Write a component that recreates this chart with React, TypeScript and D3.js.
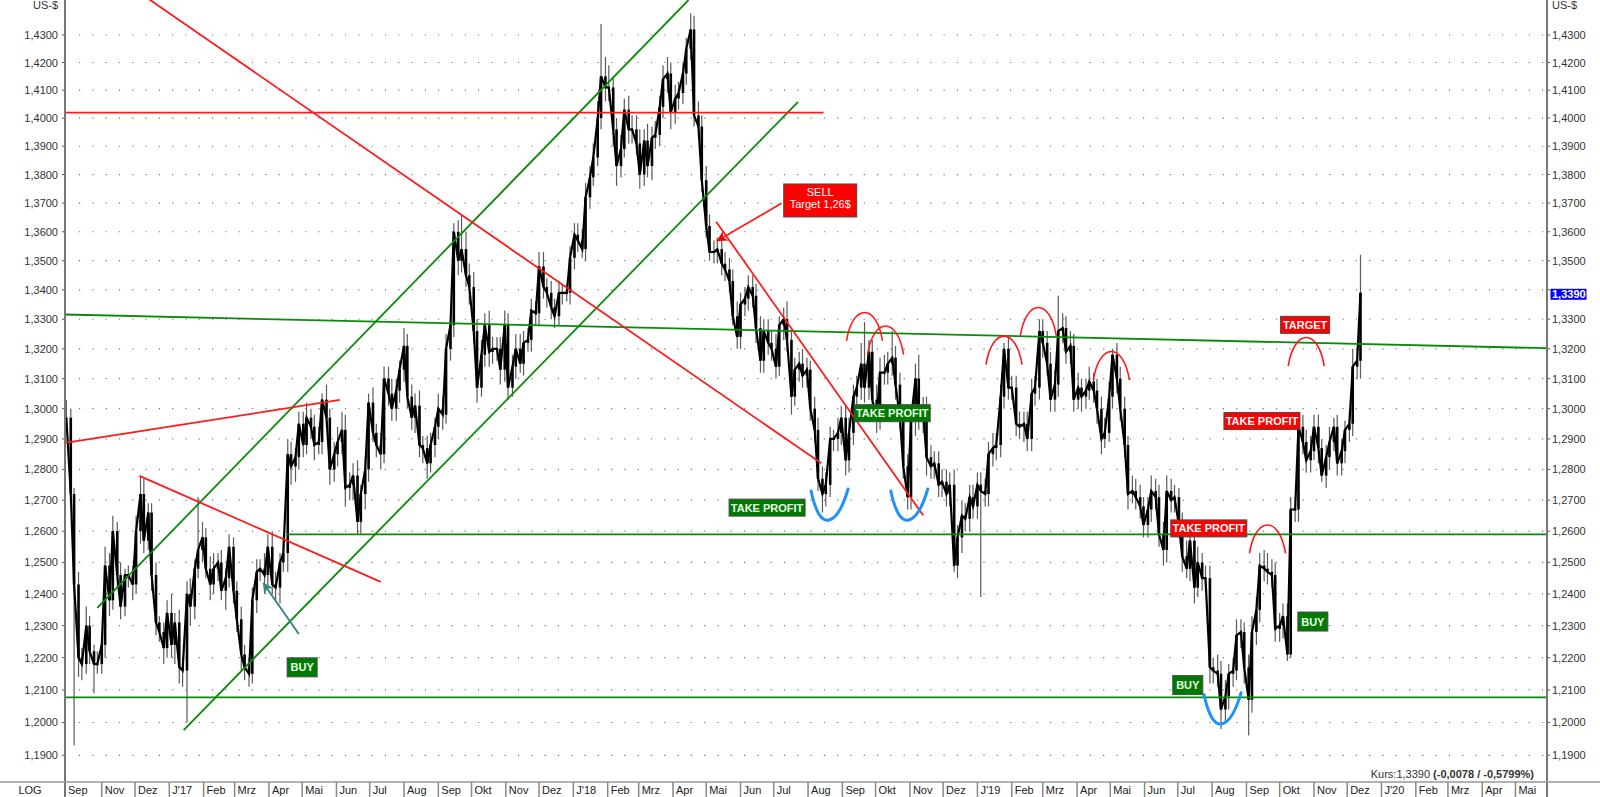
import React from "react";
import * as d3 from "d3";

// ---------- DATA (GBP/USD, Tue/Fri samples, values x1000) ----------
const seriesStart = "2016-09-30"; // first sample (Friday), then Tue/Fri alternating

const closes = [
  // 2016
  1297,
  1272, 1243, 1220, 1218, 1230, 1222, 1218, 1218,
  1224, 1249, 1238, 1260, 1246, 1236, 1246, 1246,
  1243, 1260, 1272, 1257, 1266, 1246, 1231, 1228, 1223, 1234,
  // 2017
  1224, 1231, 1217, 1216, 1240, 1236, 1248, 1254,
  1258, 1248, 1243, 1248, 1250, 1241, 1245, 1255,
  1241, 1232, 1221, 1217, 1215, 1238, 1247, 1248, 1246, 1255,
  1243, 1242, 1250, 1253, 1285, 1281, 1284, 1295,
  1288, 1297, 1294, 1288, 1289, 1303, 1297, 1280,
  1285, 1289, 1293, 1274, 1275, 1278, 1263, 1272, 1280, 1302,
  1292, 1288, 1285, 1310, 1305, 1300, 1306, 1313,
  1321, 1304, 1297, 1301, 1288, 1287, 1282, 1288,
  1294, 1300, 1298, 1320, 1328, 1360, 1350, 1354, 1345, 1341,
  1326, 1307, 1318, 1328, 1319, 1320, 1320, 1313,
  1328, 1307, 1314, 1320, 1315, 1322, 1323, 1333,
  1332, 1348, 1341, 1339, 1334, 1331, 1339, 1339, 1339, 1351,
  // 2018
  1359, 1357, 1354, 1372, 1379, 1386, 1400, 1415,
  1411, 1411, 1396, 1383, 1389, 1403, 1396, 1396,
  1391, 1380, 1392, 1383, 1393, 1394, 1404, 1414, 1416, 1402,
  1407, 1409, 1416, 1425, 1432, 1401, 1397, 1378,
  1362, 1353, 1353, 1354, 1349, 1347, 1343, 1331,
  1324, 1335, 1337, 1341, 1338, 1327, 1316, 1326, 1322, 1320,
  1314, 1328, 1330, 1323, 1304, 1313, 1315, 1311,
  1313, 1300, 1293, 1277, 1272, 1275, 1290, 1290, 1292, 1297,
  1283, 1292, 1304, 1307, 1315, 1307, 1319, 1303,
  1297, 1312, 1312, 1315, 1317, 1308, 1297, 1281,
  1271, 1296, 1310, 1297, 1299, 1284, 1281, 1282, 1275, 1276,
  1272, 1275, 1249, 1258, 1265, 1264, 1271, 1268,
  // 2019
  1275, 1273, 1272, 1285, 1287, 1288, 1304, 1320,
  1307, 1307, 1295, 1294, 1295, 1290, 1305, 1307,
  1326, 1322, 1315, 1303, 1308, 1326, 1327, 1319, 1321, 1303,
  1307, 1304, 1306, 1309, 1306, 1300, 1290, 1292,
  1304, 1318, 1310, 1300, 1288, 1272, 1273, 1271, 1268, 1262,
  1267, 1273, 1271, 1259, 1254, 1273, 1270, 1271,
  1262, 1252, 1248, 1257, 1242, 1250, 1245, 1245,
  1217, 1216, 1215, 1204, 1208, 1215, 1216, 1227, 1228, 1217,
  1207, 1228, 1235, 1249, 1248, 1247, 1246, 1229,
  1230, 1233, 1221, 1267, 1267, 1294, 1289, 1283,
  1286, 1294, 1287, 1278, 1284, 1289, 1294, 1282, 1286, 1293,
  1295, 1314, 1316, 1339,
];

// high above body top, x1000
const wickUp = [
  6,
  3, 2, 4, 3, 6, 3, 2, 4,
  3, 6, 4, 5, 3, 4, 2, 3,
  3, 5, 6, 5, 3, 3, 4, 2, 3, 4,
  6, 3, 4, 3, 4, 5, 3, 17,
  5, 3, 4, 5, 3, 4, 3, 4,
  3, 3, 4, 3, 3, 4, 4, 3, 5, 4,
  5, 4, 3, 4, 5, 4, 3, 4,
  4, 5, 3, 4, 5, 2, 5, 3,
  4, 5, 6, 5, 4, 4, 5, 3, 4, 3,
  5, 3, 4, 4, 4, 5, 4, 3,
  6, 4, 4, 4, 5, 3, 4, 4,
  3, 5, 4, 5, 3, 3, 4, 12, 6, 4,
  5, 4, 5, 4, 5, 4, 4, 4,
  5, 4, 4, 5, 5, 4, 4, 4,
  3, 5, 5, 3, 4, 3, 4, 3, 3, 4,
  4, 4, 4, 5, 4, 5, 6, 19,
  7, 8, 4, 4, 5, 4, 5, 5,
  5, 5, 4, 6, 4, 5, 4, 5, 6, 4,
  5, 4, 4, 4, 6, 5, 5, 4,
  5, 4, 4, 4, 5, 4, 4, 4,
  5, 4, 4, 4, 4, 4, 4, 4, 4, 4,
  5, 3, 4, 6, 3, 4, 4, 5,
  4, 3, 4, 4, 4, 4, 4, 3, 5, 4,
  4, 5, 4, 4, 7, 14, 4, 4,
  5, 5, 6, 4, 9, 4, 4, 4,
  4, 5, 5, 8, 5, 5, 4, 4, 4, 4,
  4, 4, 5, 4, 5, 4, 4, 4,
  4, 4, 4, 4, 5, 4, 4, 2,
  4, 4, 4, 4, 4, 4, 5, 4,
  4, 4, 4, 4, 5, 12, 5, 4, 5, 4,
  5, 3, 4, 5, 3, 4, 4, 5,
  5, 2, 4, 4, 4, 3, 5, 4, 4, 3,
  4, 5, 4, 4, 4, 5, 4, 4,
  3, 4, 5, 3, 4, 5, 3, 4,
  4, 3, 5, 4, 5, 3, 4, 5, 4, 3,
  4, 5, 4, 4, 5, 5, 4, 4,
  4, 4, 4, 4, 4, 5, 4, 4,
  5, 4, 4, 3, 4, 5, 3, 4, 4, 3,
  4, 6, 4, 13,
];

// low below body bottom, x1000
const wickDn = [
  3,
  3, 50, 6, 5, 3, 4, 9, 3,
  3, 4, 5, 3, 4, 4, 3, 4,
  5, 3, 4, 4, 3, 5, 4, 3, 5, 3,
  4, 6, 5, 5, 16, 6, 4, 3,
  4, 3, 5, 3, 4, 3, 6, 3,
  4, 4, 5, 4, 4, 3, 4, 3, 6, 4,
  3, 4, 5, 3, 6, 6, 5, 4,
  4, 3, 4, 5, 3, 4, 3, 5,
  4, 4, 4, 6, 4, 5, 4, 4, 5, 4,
  3, 4, 5, 3, 4, 4, 4, 4,
  4, 4, 4, 5, 4, 5, 5, 3,
  4, 4, 5, 3, 4, 4, 5, 4, 4, 6,
  4, 5, 3, 4, 5, 4, 4, 5,
  4, 4, 3, 4, 3, 4, 3, 4,
  4, 4, 4, 5, 4, 4, 3, 4, 3, 4,
  4, 4, 3, 4, 4, 3, 3, 4,
  5, 5, 6, 7, 4, 3, 5, 5,
  4, 5, 4, 4, 5, 4, 4, 4, 5, 6,
  4, 4, 4, 4, 4, 4, 4, 4,
  4, 3, 4, 4, 4, 4, 4, 3,
  4, 4, 4, 4, 4, 5, 4, 4, 4, 4,
  4, 3, 5, 4, 6, 3, 4, 4,
  4, 4, 4, 4, 6, 4, 4, 4, 4, 4,
  5, 4, 4, 4, 4, 5, 4, 5,
  5, 4, 4, 4, 4, 5, 4, 4,
  4, 4, 5, 4, 5, 6, 4, 4, 4, 4,
  4, 4, 2, 4, 5, 4, 4, 4,
  4, 34, 4, 4, 4, 4, 4, 4,
  4, 4, 4, 4, 5, 4, 4, 4,
  4, 5, 4, 4, 4, 4, 4, 4, 4, 4,
  3, 5, 4, 3, 4, 5, 5, 3,
  3, 4, 5, 4, 4, 5, 3, 4, 4, 4,
  4, 4, 4, 4, 5, 4, 4, 4,
  4, 5, 3, 4, 5, 3, 4, 4,
  5, 4, 4, 6, 4, 4, 4, 3, 4, 5,
  11, 4, 4, 4, 4, 4, 4, 4,
  4, 4, 2, 1, 4, 4, 4, 4,
  4, 3, 5, 2, 4, 4, 3, 4, 4, 4,
  4, 4, 4, 6,
];

// axis content
const yTicks = d3.range(119, 144).map((v) => v / 100);
const monthNames = ["Jan", "Feb", "Mrz", "Apr", "Mai", "Jun", "Jul", "Aug", "Sep", "Okt", "Nov", "Dez"];
const firstMonthLabel = "Sep";
const lastPrice = 1.339;
const kursText = "Kurs:1,3390 ";
const kursChange = "(-0,0078 / -0,5799%)";

// annotations in data space: [date1, price1, date2, price2]
const redTrendLines: [string, number, string, number][] = [
  ["2016-12-14", 1.443, "2018-08-13", 1.282],
  ["2016-09-29", 1.402, "2018-08-15", 1.402],
  ["2016-09-29", 1.2887, "2017-06-04", 1.3029],
  ["2016-12-05", 1.2779, "2017-07-11", 1.2438],
  ["2018-05-10", 1.3635, "2018-11-13", 1.2651],
];
const greenTrendLines: [string, number, string, number][] = [
  ["2016-10-28", 1.2356, "2018-04-15", 1.4428],
  ["2017-01-14", 1.1977, "2018-07-23", 1.4058],
  ["2016-09-29", 1.3316, "2020-05-29", 1.3202],
  ["2017-04-17", 1.259, "2020-05-29", 1.259],
  ["2016-09-29", 1.2077, "2020-05-29", 1.2077],
];
const sellArrow: [string, number, string, number] = ["2018-07-08", 1.3699, "2018-05-11", 1.3569];
const buyArrow: [string, number, string, number] = ["2017-04-28", 1.2274, "2017-03-27", 1.2434];

// red "top" humps: [date, top price]
const humps: [string, number][] = [
  ["2018-09-21", 1.3328],
  ["2018-10-10", 1.3282],
  ["2019-01-25", 1.3248],
  ["2019-02-25", 1.3345],
  ["2019-05-02", 1.3196],
  ["2019-10-25", 1.3243],
  ["2019-09-20", 1.2625],
];
// blue "bottom" U shapes: [date, bottom price]
const bottoms: [string, number][] = [
  ["2018-08-20", 1.2636],
  ["2018-10-31", 1.2636],
  ["2019-08-10", 1.1996],
];

// labels: [text, date (center), price (center), kind]
const labels: [string, string, number, string][] = [
  ["SELL|Target 1,26$", "2018-08-12", 1.3709, "red"],
  ["BUY", "2017-05-01", 1.217, "green"],
  ["TAKE PROFIT", "2018-06-25", 1.2676, "green"],
  ["TAKE PROFIT", "2018-10-16", 1.2985, "green"],
  ["TAKE PROFIT", "2019-09-15", 1.2959, "red"],
  ["TAKE PROFIT", "2019-07-29", 1.2609, "red"],
  ["TARGET", "2019-10-24", 1.3281, "red"],
  ["BUY", "2019-10-31", 1.2313, "green"],
  ["BUY", "2019-07-10", 1.2115, "green"],
];

// ---------- RENDER ----------
const W = 1600;
const H = 797;
const LEFT = 65;
const RIGHT = 1547;
const BOTTOM = 782;
const FONT = "'Liberation Sans', Arial, sans-serif";

const toDate = (s: string) => new Date(s + "T00:00:00Z");
const fmt = (v: number) => v.toFixed(4).replace(".", ",");

export default function App() {
  const x = d3
    .scaleUtc()
    .domain([toDate("2017-01-01"), toDate("2020-01-01")])
    .range([169.3, 1381.5]);
  const y = d3.scaleLog().domain([1.43, 1.19]).range([35, 755.3]);

  const startMs = toDate(seriesStart).getTime();
  const DAY = 86400000;
  const pts = closes.map((c, i) => {
    const offset = 7 * Math.floor((i + 1) / 2) - (i % 2 ? 3 : 0);
    const date = new Date(startMs + offset * DAY);
    const close = c / 1000;
    const open = i ? closes[i - 1] / 1000 : close;
    const high = Math.max(open, close) + wickUp[i] / 1000;
    const low = Math.min(open, close) - wickDn[i] / 1000;
    return { date, open, close, high, low };
  });

  const closePath = d3
    .line<(typeof pts)[number]>()
    .x((p) => x(p.date))
    .y((p) => y(p.close))(pts);

  const months = d3.utcMonth.range(toDate("2016-11-01"), toDate("2020-06-01"));
  const monthLabel = (m: Date) =>
    m.getUTCMonth() === 0 ? `J'${String(m.getUTCFullYear()).slice(2)}` : monthNames[m.getUTCMonth()];

  const seg = (l: [string, number, string, number]) => ({
    x1: x(toDate(l[0])),
    y1: y(l[1]),
    x2: x(toDate(l[2])),
    y2: y(l[3]),
  });

  const boxSize = (t: string) => {
    if (t.includes("|")) return [73, 33];
    if (t === "BUY") return [30, 19];
    if (t === "TARGET") return [49, 17];
    return [76, 17];
  };

  const sa = seg(sellArrow);
  const ba = seg(buyArrow);
  const tagY = y(lastPrice);

  return (
    <svg
      width={W}
      height={H}
      style={{ position: "absolute", left: 0, top: 0, background: "#fff" }}
      fontFamily={FONT}
    >
      <defs>
        <clipPath id="plot">
          <rect x={LEFT} y={0} width={RIGHT - LEFT} height={BOTTOM} />
        </clipPath>
        <marker id="arrRed" viewBox="0 0 10 10" refX="9" refY="5" markerWidth="13" markerHeight="11" markerUnits="userSpaceOnUse" orient="auto">
          <path d="M0,0 L10,5 L0,10 L3,5 z" fill="#ff0000" />
        </marker>
        <marker id="arrTeal" viewBox="0 0 10 10" refX="9" refY="5" markerWidth="13" markerHeight="11" markerUnits="userSpaceOnUse" orient="auto">
          <path d="M0,0 L10,5 L0,10 L3,5 z" fill="#3d8585" />
        </marker>
      </defs>
      <rect x={0} y={0} width={W} height={H} fill="#fff" />

      {/* dotted grid + ticks + labels */}
      {yTicks.map((v) => {
        const yy = y(v);
        const hiddenByTag = Math.abs(yy - tagY) < 10;
        return (
          <g key={v}>
            <line x1={79} x2={RIGHT - 2} y1={yy} y2={yy} stroke="#777" strokeWidth={1.2} strokeDasharray="1.2,12.1" />
            <line x1={LEFT - 3} x2={LEFT} y1={yy} y2={yy} stroke="#555" />
            <line x1={RIGHT} x2={RIGHT + 3} y1={yy} y2={yy} stroke="#555" />
            <text x={58} y={yy + 4} textAnchor="end" fontSize={11} fill="#333">
              {fmt(v)}
            </text>
            {!hiddenByTag && (
              <text x={1552} y={yy + 4} fontSize={11} fill="#333">
                {fmt(v)}
              </text>
            )}
          </g>
        );
      })}
      <text x={58} y={9} textAnchor="end" fontSize={11} fill="#333">US-$</text>
      <text x={1552} y={9} fontSize={11} fill="#333">US-$</text>

      {/* price series */}
      <g clipPath="url(#plot)">
        {pts.map((p, i) => (
          <line key={"w" + i} x1={x(p.date)} x2={x(p.date)} y1={y(p.high)} y2={y(p.low)} stroke="#5a5a5a" strokeWidth={1.2} />
        ))}
        {pts.map((p, i) => {
          const top = y(Math.max(p.open, p.close));
          const bot = y(Math.min(p.open, p.close));
          return <rect key={"b" + i} x={x(p.date) - 1.3} y={top} width={2.6} height={Math.max(1, bot - top)} fill="#000" />;
        })}
        <path d={closePath ?? ""} fill="none" stroke="#000" strokeWidth={2.2} />

        {greenTrendLines.map((l, i) => {
          const s = seg(l);
          return <line key={"g" + i} {...s} stroke="#0a8a0a" strokeWidth={1.8} />;
        })}
        {redTrendLines.map((l, i) => {
          const s = seg(l);
          return <line key={"r" + i} {...s} stroke="#ff1a1a" strokeWidth={1.8} />;
        })}

        {humps.map(([d, p], i) => {
          const cx = x(toDate(d));
          const cy = y(p);
          return (
            <path
              key={"h" + i}
              d={`M${cx - 18},${cy + 30} C${cx - 12},${cy - 8} ${cx + 12},${cy - 8} ${cx + 18},${cy + 30}`}
              fill="none"
              stroke="#ff1a1a"
              strokeWidth={1.6}
            />
          );
        })}
        {bottoms.map(([d, p], i) => {
          const cx = x(toDate(d));
          const cy = y(p);
          return (
            <path
              key={"u" + i}
              d={`M${cx - 18},${cy - 29} C${cx - 14},${cy - 10} ${cx - 8},${cy + 2} ${cx},${cy} C${cx + 8},${cy - 2} ${cx + 14},${cy - 14} ${cx + 19},${cy - 31}`}
              fill="none"
              stroke="#1e90ff"
              strokeWidth={3}
              strokeLinecap="round"
            />
          );
        })}

        <line {...sa} stroke="#ff1a1a" strokeWidth={1.8} markerEnd="url(#arrRed)" />
        <line {...ba} stroke="#3d8585" strokeWidth={2} markerEnd="url(#arrTeal)" />

        {labels.map(([t, d, p, kind], i) => {
          const cx = x(toDate(d));
          const cy = y(p);
          const [w, h] = boxSize(t);
          const lines = t.split("|");
          const fill = kind === "red" ? "#ff0000" : "#007a00";
          return (
            <g key={"l" + i}>
              <rect x={cx - w / 2} y={cy - h / 2} width={w} height={h} fill={fill} stroke="#4a4a4a" strokeWidth={1} />
              {lines.length === 1 ? (
                <text x={cx} y={cy + 4} textAnchor="middle" fontSize={11} fill={kind === "red" ? "#fff" : "#e8ffe8"} fontWeight="bold">
                  {t}
                </text>
              ) : (
                lines.map((s, j) => (
                  <text key={j} x={cx} y={cy - 4 + j * 12} textAnchor="middle" fontSize={11} fill="#fff">
                    {s}
                  </text>
                ))
              )}
            </g>
          );
        })}
      </g>

      {/* axes */}
      <line x1={LEFT} x2={LEFT} y1={0} y2={H} stroke="#777" strokeWidth={2} />
      <line x1={RIGHT} x2={RIGHT} y1={0} y2={H} stroke="#777" strokeWidth={2} />
      <line x1={0} x2={W} y1={BOTTOM} y2={BOTTOM} stroke="#999" strokeWidth={1.5} />

      {/* price tag */}
      <rect x={1550.5} y={tagY - 4} width={36} height={11} fill="#0000ff" />
      <text x={1552} y={tagY + 5.5} fontSize={11} fill="#fff" fontWeight="bold">
        {fmt(lastPrice)}
      </text>

      {/* month axis */}
      <text x={30} y={794} textAnchor="middle" fontSize={11} fill="#222">LOG</text>
      <text x={LEFT + 3} y={794} fontSize={11} fill="#222">{firstMonthLabel}</text>
      {months.map((m, i) => {
        const mx = x(m);
        return (
          <g key={"m" + i}>
            <line x1={mx} x2={mx} y1={BOTTOM} y2={H} stroke="#888" strokeWidth={1.5} />
            <text x={mx + 3} y={794} fontSize={11} fill="#222">
              {monthLabel(m)}
            </text>
          </g>
        );
      })}

      <text x={1534} y={778} textAnchor="end" fontSize={11} fill="#333">
        <tspan>{kursText}</tspan>
        <tspan fontWeight="bold">{kursChange}</tspan>
      </text>
    </svg>
  );
}
